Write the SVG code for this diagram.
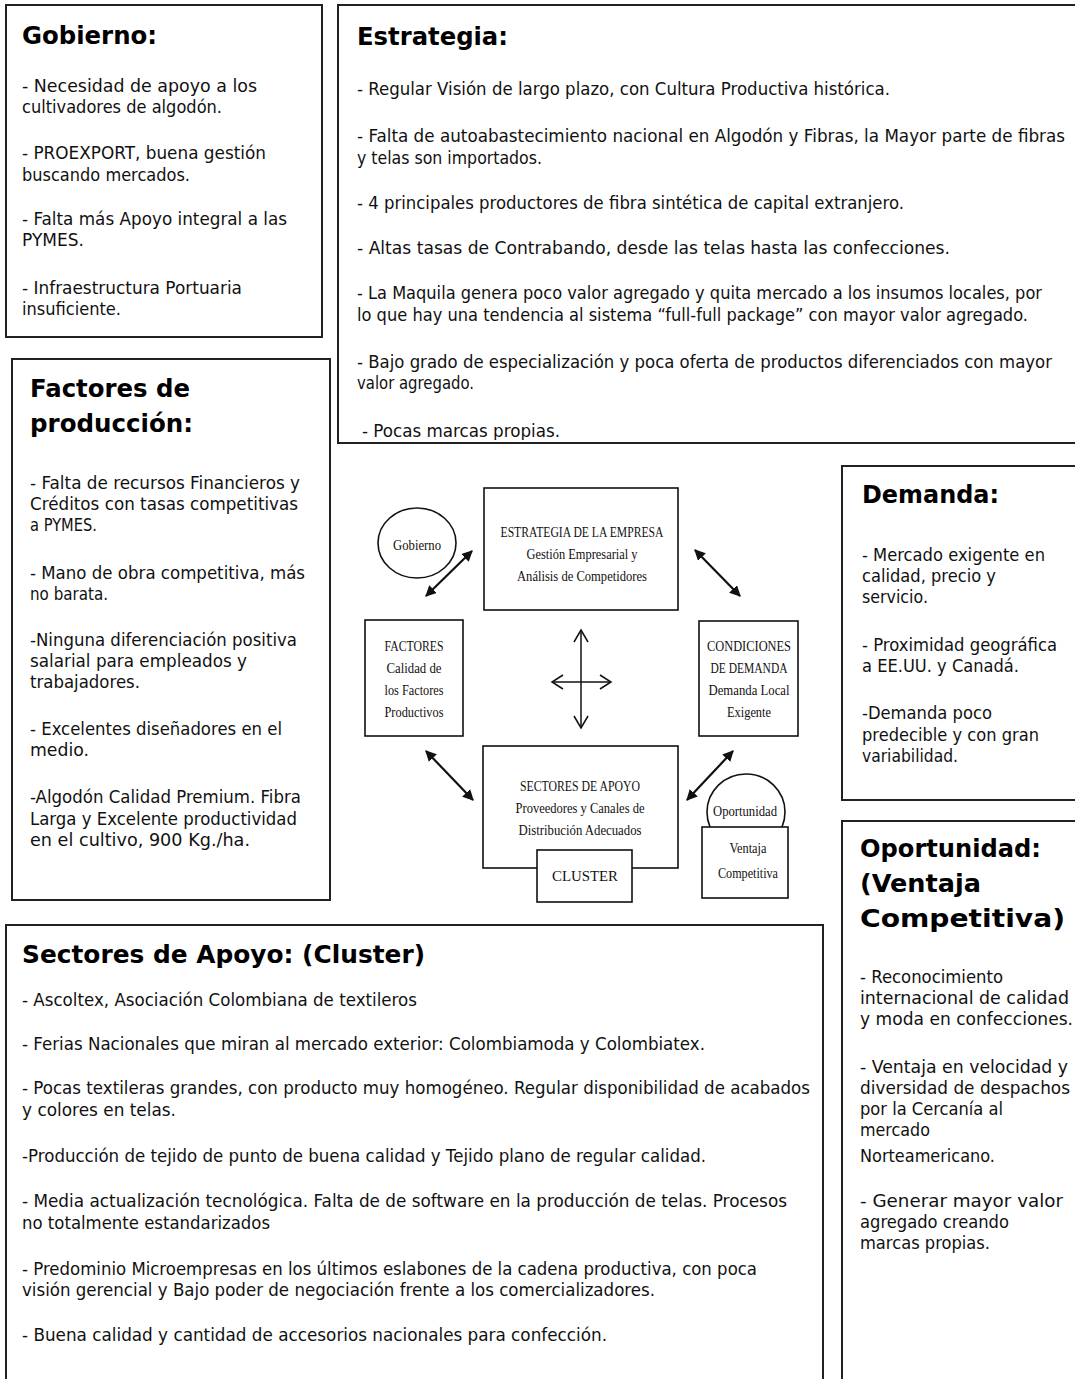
<svg xmlns="http://www.w3.org/2000/svg" width="1075" height="1379" viewBox="0 0 1075 1379">
<style>
.box{fill:#fff;stroke:#222;stroke-width:2}
.t{font-family:"DejaVu Sans",Verdana,sans-serif;font-size:17px;fill:#111}
.h{font-family:"DejaVu Sans",Verdana,sans-serif;font-weight:bold;font-size:25px;fill:#000}
.s{font-family:"Liberation Serif","Times New Roman",serif;font-size:14px;fill:#111;text-anchor:middle}
.cb{fill:#fff;stroke:#111;stroke-width:1.6}
.con{stroke:#111;stroke-width:2.2;fill:none}
.cross{stroke:#111;stroke-width:1.5;fill:none}
</style>
<defs>
<marker id="ah" viewBox="0 0 10 10" refX="9" refY="5" markerWidth="11" markerHeight="11" markerUnits="userSpaceOnUse" orient="auto-start-reverse">
<path d="M0,0 L10,5 L0,10 z" fill="#111"/>
</marker>
<clipPath id="clipE"><rect x="330" y="0" width="745" height="440"/></clipPath>
</defs>

<g id="panel-gobierno">
<rect class="box" x="6" y="5" width="316" height="332"/>
<text class="h" x="22" y="44" textLength="135" lengthAdjust="spacingAndGlyphs">Gobierno:</text>
<text class="t" x="22" y="92" textLength="235" lengthAdjust="spacingAndGlyphs">- Necesidad de apoyo a  los</text>
<text class="t" x="22" y="113" textLength="200" lengthAdjust="spacingAndGlyphs">cultivadores de algodón.</text>
<text class="t" x="22" y="159" textLength="244" lengthAdjust="spacingAndGlyphs">- PROEXPORT, buena gestión</text>
<text class="t" x="22" y="181" textLength="168" lengthAdjust="spacingAndGlyphs">buscando mercados.</text>
<text class="t" x="22" y="225" textLength="265" lengthAdjust="spacingAndGlyphs">- Falta más Apoyo integral a las</text>
<text class="t" x="22" y="246">PYMES.</text>
<text class="t" x="22" y="294" textLength="220" lengthAdjust="spacingAndGlyphs">- Infraestructura Portuaria</text>
<text class="t" x="22" y="315" textLength="99" lengthAdjust="spacingAndGlyphs">insuficiente.</text>
</g>

<g id="panel-estrategia">
<rect class="box" x="338" y="5" width="745" height="438"/>
<text class="h" x="357" y="45" textLength="151" lengthAdjust="spacingAndGlyphs">Estrategia:</text>
<text class="t" x="357" y="95" textLength="533" lengthAdjust="spacingAndGlyphs">- Regular Visión de largo plazo, con Cultura Productiva histórica.</text>
<text class="t" x="357" y="142" textLength="708" lengthAdjust="spacingAndGlyphs">- Falta de autoabastecimiento nacional en Algodón y Fibras, la Mayor parte de  fibras</text>
<text class="t" x="357" y="164" textLength="185" lengthAdjust="spacingAndGlyphs">y telas son importados.</text>
<text class="t" x="357" y="209" textLength="547" lengthAdjust="spacingAndGlyphs">- 4 principales productores de fibra sintética de capital extranjero.</text>
<text class="t" x="357" y="254" textLength="593" lengthAdjust="spacingAndGlyphs">- Altas tasas de Contrabando, desde las telas hasta las confecciones.</text>
<text class="t" x="357" y="299" textLength="685" lengthAdjust="spacingAndGlyphs">- La Maquila genera poco valor agregado y quita mercado a los insumos locales, por</text>
<text class="t" x="357" y="321" textLength="671" lengthAdjust="spacingAndGlyphs">lo que hay una tendencia al sistema “full-full package” con mayor valor agregado.</text>
<text class="t" x="357" y="368" textLength="695" lengthAdjust="spacingAndGlyphs">- Bajo grado de especialización y poca oferta de productos diferenciados con mayor</text>
<text class="t" x="357" y="389" textLength="117" lengthAdjust="spacingAndGlyphs">valor agregado.</text>
<text class="t" x="362" y="437" textLength="198" lengthAdjust="spacingAndGlyphs" clip-path="url(#clipE)">- Pocas marcas propias.</text>
</g>

<g id="panel-factores">
<rect class="box" x="12" y="359" width="318" height="541"/>
<text class="h" x="30" y="397" font-size="27" textLength="160" lengthAdjust="spacingAndGlyphs">Factores de</text>
<text class="h" x="30" y="432" font-size="27" textLength="163" lengthAdjust="spacingAndGlyphs">producción:</text>
<text class="t" x="30" y="489" textLength="270" lengthAdjust="spacingAndGlyphs">- Falta de recursos Financieros y</text>
<text class="t" x="30" y="510" textLength="268" lengthAdjust="spacingAndGlyphs">Créditos con tasas  competitivas</text>
<text class="t" x="30" y="531" textLength="67" lengthAdjust="spacingAndGlyphs">a PYMES.</text>
<text class="t" x="30" y="579" textLength="275" lengthAdjust="spacingAndGlyphs">- Mano de obra competitiva, más</text>
<text class="t" x="30" y="600" textLength="78" lengthAdjust="spacingAndGlyphs">no barata.</text>
<text class="t" x="30" y="646" textLength="267" lengthAdjust="spacingAndGlyphs">-Ninguna diferenciación positiva</text>
<text class="t" x="30" y="667" textLength="217" lengthAdjust="spacingAndGlyphs">salarial para empleados y</text>
<text class="t" x="30" y="688" textLength="110" lengthAdjust="spacingAndGlyphs">trabajadores.</text>
<text class="t" x="30" y="735" textLength="252" lengthAdjust="spacingAndGlyphs">- Excelentes diseñadores en el</text>
<text class="t" x="30" y="756" textLength="59" lengthAdjust="spacingAndGlyphs">medio.</text>
<text class="t" x="30" y="803" textLength="271" lengthAdjust="spacingAndGlyphs">-Algodón Calidad Premium. Fibra</text>
<text class="t" x="30" y="825" textLength="267" lengthAdjust="spacingAndGlyphs">Larga y Excelente productividad</text>
<text class="t" x="30" y="846" textLength="220" lengthAdjust="spacingAndGlyphs">en el cultivo, 900 Kg./ha.</text>
</g>

<g id="panel-demanda">
<rect class="box" x="842" y="466" width="240" height="334"/>
<text class="h" x="862" y="503" textLength="137" lengthAdjust="spacingAndGlyphs">Demanda:</text>
<text class="t" x="862" y="561" textLength="183" lengthAdjust="spacingAndGlyphs">- Mercado exigente en</text>
<text class="t" x="862" y="582" textLength="134" lengthAdjust="spacingAndGlyphs">calidad, precio y</text>
<text class="t" x="862" y="603" textLength="66" lengthAdjust="spacingAndGlyphs">servicio.</text>
<text class="t" x="862" y="651" textLength="195" lengthAdjust="spacingAndGlyphs">- Proximidad geográfica</text>
<text class="t" x="862" y="672" textLength="157" lengthAdjust="spacingAndGlyphs">a EE.UU. y Canadá.</text>
<text class="t" x="862" y="719" textLength="130" lengthAdjust="spacingAndGlyphs">-Demanda poco</text>
<text class="t" x="862" y="741" textLength="177" lengthAdjust="spacingAndGlyphs">predecible y con gran</text>
<text class="t" x="862" y="762" textLength="96" lengthAdjust="spacingAndGlyphs">variabilidad.</text>
</g>

<g id="panel-oportunidad">
<rect class="box" x="842" y="821" width="240" height="570"/>
<text class="h" x="860" y="857" font-size="26" textLength="181" lengthAdjust="spacingAndGlyphs">Oportunidad:</text>
<text class="h" x="860" y="892" font-size="26" textLength="121" lengthAdjust="spacingAndGlyphs">(Ventaja</text>
<text class="h" x="860" y="927" font-size="26" textLength="205" lengthAdjust="spacingAndGlyphs">Competitiva)</text>
<text class="t" x="860" y="983" textLength="143" lengthAdjust="spacingAndGlyphs">- Reconocimiento</text>
<text class="t" x="860" y="1004" textLength="209" lengthAdjust="spacingAndGlyphs">internacional de calidad</text>
<text class="t" x="860" y="1025" textLength="213" lengthAdjust="spacingAndGlyphs">y moda en confecciones.</text>
<text class="t" x="860" y="1073" textLength="208" lengthAdjust="spacingAndGlyphs">- Ventaja en velocidad y</text>
<text class="t" x="860" y="1094" textLength="210" lengthAdjust="spacingAndGlyphs">diversidad de despachos</text>
<text class="t" x="860" y="1115" textLength="143" lengthAdjust="spacingAndGlyphs">por la Cercanía al</text>
<text class="t" x="860" y="1136" textLength="70" lengthAdjust="spacingAndGlyphs">mercado</text>
<text class="t" x="860" y="1162" textLength="135" lengthAdjust="spacingAndGlyphs">Norteamericano.</text>
<text class="t" x="860" y="1207" textLength="203" lengthAdjust="spacingAndGlyphs">- Generar  mayor valor</text>
<text class="t" x="860" y="1228" textLength="149" lengthAdjust="spacingAndGlyphs">agregado creando</text>
<text class="t" x="860" y="1249" textLength="130" lengthAdjust="spacingAndGlyphs">marcas propias.</text>
</g>

<g id="panel-sectores">
<rect class="box" x="6" y="925" width="817" height="470"/>
<text class="h" x="22" y="963" font-size="26" textLength="403" lengthAdjust="spacingAndGlyphs">Sectores de Apoyo: (Cluster)</text>
<text class="t" x="22" y="1006" textLength="395" lengthAdjust="spacingAndGlyphs">- Ascoltex, Asociación Colombiana de textileros</text>
<text class="t" x="22" y="1050" textLength="683" lengthAdjust="spacingAndGlyphs">- Ferias Nacionales que miran al mercado exterior: Colombiamoda y Colombiatex.</text>
<text class="t" x="22" y="1094" textLength="788" lengthAdjust="spacingAndGlyphs">- Pocas textileras grandes, con producto muy homogéneo. Regular disponibilidad de acabados</text>
<text class="t" x="22" y="1116" textLength="154" lengthAdjust="spacingAndGlyphs">y colores en telas.</text>
<text class="t" x="22" y="1162" textLength="684" lengthAdjust="spacingAndGlyphs">-Producción de tejido de punto de buena calidad y Tejido plano de regular calidad.</text>
<text class="t" x="22" y="1207" textLength="765" lengthAdjust="spacingAndGlyphs">- Media actualización tecnológica.  Falta de de software en la producción de telas.  Procesos</text>
<text class="t" x="22" y="1229" textLength="248" lengthAdjust="spacingAndGlyphs">no totalmente estandarizados</text>
<text class="t" x="22" y="1275" textLength="735" lengthAdjust="spacingAndGlyphs">- Predominio Microempresas en los últimos eslabones de la cadena productiva, con poca</text>
<text class="t" x="22" y="1296" textLength="633" lengthAdjust="spacingAndGlyphs">visión gerencial y Bajo poder de negociación  frente a los comercializadores.</text>
<text class="t" x="22" y="1341" textLength="585" lengthAdjust="spacingAndGlyphs">- Buena calidad y cantidad de accesorios nacionales para confección.</text>
</g>

<g id="node-gobierno">
<ellipse class="cb" cx="417" cy="543" rx="39" ry="35"/>
<text class="s" x="417" y="550" textLength="48" lengthAdjust="spacingAndGlyphs">Gobierno</text>
</g>

<g id="node-estrategia">
<rect class="cb" x="484" y="488" width="194" height="122"/>
<text class="s" x="582" y="537" textLength="163" lengthAdjust="spacingAndGlyphs">ESTRATEGIA DE LA EMPRESA</text>
<text class="s" x="582" y="559" textLength="111" lengthAdjust="spacingAndGlyphs">Gestión Empresarial y</text>
<text class="s" x="582" y="581" textLength="130" lengthAdjust="spacingAndGlyphs">Análisis de Competidores</text>
</g>

<g id="node-factores">
<rect class="cb" x="365" y="620" width="98" height="116"/>
<text class="s" x="414" y="651" textLength="59" lengthAdjust="spacingAndGlyphs">FACTORES</text>
<text class="s" x="414" y="673" textLength="55" lengthAdjust="spacingAndGlyphs">Calidad de</text>
<text class="s" x="414" y="695" textLength="59" lengthAdjust="spacingAndGlyphs">los Factores</text>
<text class="s" x="414" y="717" textLength="59" lengthAdjust="spacingAndGlyphs">Productivos</text>
</g>

<g id="node-condiciones">
<rect class="cb" x="699" y="621" width="99" height="115"/>
<text class="s" x="749" y="651" textLength="84" lengthAdjust="spacingAndGlyphs">CONDICIONES</text>
<text class="s" x="749" y="673" textLength="77" lengthAdjust="spacingAndGlyphs">DE DEMANDA</text>
<text class="s" x="749" y="695" textLength="81" lengthAdjust="spacingAndGlyphs">Demanda Local</text>
<text class="s" x="749" y="717" textLength="44" lengthAdjust="spacingAndGlyphs">Exigente</text>
</g>

<g id="node-sectores">
<rect class="cb" x="483" y="746" width="195" height="122"/>
<text class="s" x="580" y="791" textLength="120" lengthAdjust="spacingAndGlyphs">SECTORES DE APOYO</text>
<text class="s" x="580" y="813" textLength="129" lengthAdjust="spacingAndGlyphs">Proveedores y Canales de</text>
<text class="s" x="580" y="835" textLength="123" lengthAdjust="spacingAndGlyphs">Distribución Adecuados</text>
</g>

<g id="node-cluster">
<rect class="cb" x="537" y="850" width="95" height="52"/>
<text class="s" x="585" y="881" font-size="16" textLength="66" lengthAdjust="spacingAndGlyphs">CLUSTER</text>
</g>

<g id="node-oportunidad">
<ellipse class="cb" cx="746" cy="812" rx="39" ry="38"/>
<text class="s" x="745" y="816" textLength="64" lengthAdjust="spacingAndGlyphs">Oportunidad</text>
</g>

<g id="node-ventaja">
<rect class="cb" x="702" y="827" width="86" height="71"/>
<text class="s" x="748" y="853" textLength="37" lengthAdjust="spacingAndGlyphs">Ventaja</text>
<text class="s" x="748" y="878" textLength="60" lengthAdjust="spacingAndGlyphs">Competitiva</text>
</g>

<g id="connectors">
<line class="con" x1="472" y1="551" x2="426" y2="596" marker-start="url(#ah)" marker-end="url(#ah)"/>
<line class="con" x1="695" y1="550" x2="740" y2="596" marker-start="url(#ah)" marker-end="url(#ah)"/>
<line class="con" x1="426" y1="751" x2="473" y2="800" marker-start="url(#ah)" marker-end="url(#ah)"/>
<line class="con" x1="733" y1="751" x2="687" y2="800" marker-start="url(#ah)" marker-end="url(#ah)"/>
<g class="cross">
<line x1="581" y1="630" x2="581" y2="728"/>
<line x1="552" y1="682" x2="611" y2="682"/>
<polyline points="574,642 581,630 588,642"/>
<polyline points="574,716 581,728 588,716"/>
<polyline points="563,675 552,682 563,689"/>
<polyline points="600,675 611,682 600,689"/>
</g>
</g>
</svg>
